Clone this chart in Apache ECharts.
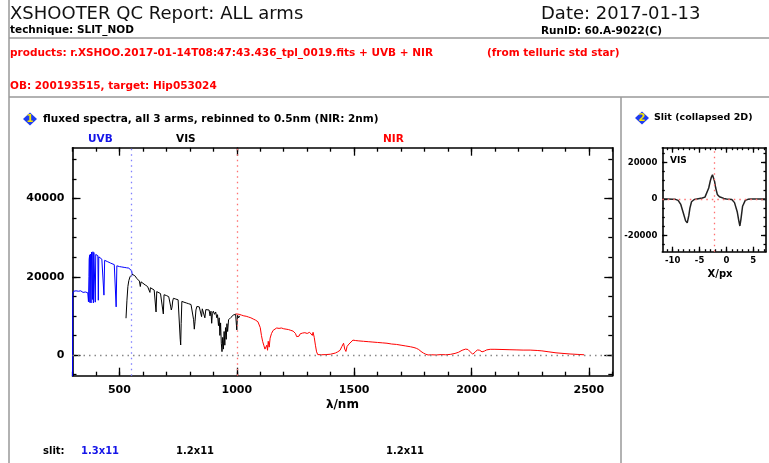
<!DOCTYPE html>
<html><head><meta charset="utf-8">
<script src="https://cdn.jsdelivr.net/npm/echarts@6/dist/echarts.min.js"></script>
<style>html,body{margin:0;padding:0;background:#fff}#c{width:769px;height:463px}</style>
</head><body><div id="c"></div>
<script>
// ---------- data ----------
const uvbWave = [300,301,305,310,315,320,325,330,335,340,345,350,355,360,365,368,370,371,373,374,376,377,379,381,383,385,387,389,391,393,395,397,399,402,405,408,410,412,416,420,425,430,434,437,442,448,455,462,470,478,483,486,489,495,500,510,520,530,540,548,552,555];
const uvbFlux = [-9000,15600,16300,15900,16400,16100,16300,16000,16400,16200,16000,16300,16100,16200,15900,13600,20000,24500,25500,13400,25800,26200,13300,26300,26400,14200,26400,13300,26200,25900,26000,13500,25700,25500,25300,25400,14000,25100,24900,24700,24500,24300,15300,24200,24000,23900,23700,23500,23300,23100,22900,12300,22800,22700,22600,22500,22400,22300,22200,22100,21500,20400];

const visWave = [528,532,536,540,545,550,555,560,565,570,575,580,585,589,592,600,610,620,628,630,632,640,648,653,656,659,665,675,683,687,690,700,710,715,718,721,724,727,730,740,750,755,759,761,763,766,775,785,795,805,812,816,819,822,826,830,840,846,850,853,860,864,868,875,882,886,890,893,896,900,905,910,915,918,922,925,928,931,934,937,940,943,946,949,952,955,958,961,965,970,975,980,985,990,995,1000,1003,1008,1012];
const visFlux = [9400,14000,17500,19000,20000,20400,20600,20900,20300,19800,19500,19200,18900,17500,18700,18400,17900,17500,17300,16000,17200,16900,16600,16400,11000,16200,16000,15700,15600,10500,15400,15200,14900,14600,12500,11500,12200,13800,14500,14300,14100,14000,4000,2550,8000,13700,13500,13300,13100,12900,12700,9000,6600,8500,11500,12400,12300,12100,9800,11800,11800,9500,11600,11600,11500,10000,11200,8100,10600,11200,10400,11000,9500,10300,7500,9500,5000,8200,3000,850,4500,1500,6000,2500,7000,4000,8000,6000,9000,8500,9600,9300,10200,9800,10400,6400,10200,9500,10000];

const nirWave = [995,1000,1010,1020,1030,1040,1050,1060,1070,1080,1090,1095,1100,1105,1110,1115,1120,1125,1128,1131,1134,1138,1142,1148,1155,1162,1170,1180,1190,1200,1210,1220,1230,1240,1250,1255,1260,1265,1270,1280,1290,1300,1310,1318,1322,1325,1330,1335,1340,1345,1360,1380,1400,1420,1430,1440,1448,1455,1460,1465,1470,1478,1485,1495,1505,1520,1540,1560,1580,1600,1620,1640,1660,1680,1700,1720,1740,1755,1765,1775,1785,1795,1805,1815,1830,1850,1870,1890,1910,1930,1945,1960,1975,1985,1995,2005,2015,2025,2035,2045,2055,2065,2080,2100,2130,2160,2190,2220,2250,2280,2300,2330,2360,2390,2420,2450,2480];
const nirFlux = [10500,10300,10400,10200,10000,9900,9700,9500,9200,8900,8500,8000,7000,5000,3500,2500,1500,1300,2500,1200,3500,2000,4300,5500,6300,6700,6900,6800,6900,6700,6600,6500,6300,6100,5500,4700,5200,4800,5400,5600,5700,5500,5800,5600,5000,5800,4500,2500,800,100,50,100,200,500,800,1200,2200,3000,1500,900,2200,2800,3300,3800,3700,3600,3500,3400,3300,3200,3100,3000,2800,2700,2500,2300,2100,1900,1700,1400,900,500,200,0,50,0,100,50,150,400,700,1200,1500,1400,800,200,700,1300,1200,800,1000,1300,1450,1450,1400,1350,1300,1250,1250,1150,1050,800,550,400,250,150,50];

const slitX = [-12,-11,-10,-9.5,-9,-8.5,-8,-7.6,-7.3,-7,-6.8,-6.5,-6,-5.5,-5,-4.5,-4,-3.7,-3.3,-3,-2.8,-2.6,-2.4,-2.2,-2,-1.7,-1.3,-1,-0.5,0,0.5,1,1.5,2,2.3,2.5,2.7,3,3.5,4,4.5,5,6,7,7.4];
const slitFlux = [0,0,-100,-200,-800,-3000,-8000,-12000,-13100,-9000,-5000,-1500,-300,0,300,500,1000,2000,6000,10000,12000,13300,12500,9500,6000,2500,1200,800,300,0,-100,-300,-2000,-7000,-12000,-14800,-11000,-4000,-800,-200,0,0,0,0,0];

// tick / label values
const mainXMinor = [300,400,500,600,700,800,900,1000,1100,1200,1300,1400,1500,1600,1700,1800,1900,2000,2100,2200,2300,2400,2500,2600];
const mainXMajor = [500,1000,1500,2000,2500];
const mainYMinor = [-5000,0,5000,10000,15000,20000,25000,30000,35000,40000,45000,50000];
const mainYMajor = [0,20000,40000];
const slitXMinor = [-11,-10,-9,-8,-7,-6,-5,-4,-3,-2,-1,0,1,2,3,4,5,6,7];
const slitXMajor = [-10,-5,0,5];
const slitYMinor = [-25000,-20000,-15000,-10000,-5000,0,5000,10000,15000,20000,25000];
const slitYMajor = [-20000,0,20000];

// ---------- chart ----------
const BF = '"DejaVu Sans", sans-serif';
function zipXY(a,b){return a.map((v,i)=>[v,b[i]]);}
function axis(kind, grid, position, min, max, ticks, len, showLine, labelCfg, extra){
  const ax = {
    type:'value', gridIndex:grid, position, min, max,
    axisLine:{show:showLine, onZero:false, lineStyle:{color:'#000', width:1.6}},
    axisTick:{show:true, inside:true, length:len, customValues:ticks, lineStyle:{color:'#000', width:1.3}},
    axisLabel: labelCfg ? Object.assign({show:true, customValues:labelCfg.values, color:'#000', fontFamily:BF, fontWeight:'bold', formatter:(v)=>String(v)}, labelCfg.style) : {show:false},
    splitLine:{show:false}
  };
  return Object.assign(ax, extra||{});
}
const xAxes = [
  axis('x',0,'bottom',300,2600,mainXMinor,4,true,{values:mainXMajor,style:{fontSize:11,margin:9}},
       {name:'λ/nm', nameLocation:'middle', nameGap:23, nameTextStyle:{fontFamily:BF,fontWeight:'bold',fontSize:12,color:'#000'}}),
  axis('x',0,'bottom',300,2600,mainXMajor,8,false,null),
  axis('x',0,'top',300,2600,mainXMinor,4,true,null),
  axis('x',0,'top',300,2600,mainXMajor,8,false,null),
  axis('x',1,'bottom',-11.94,7.36,slitXMinor,2.5,true,{values:slitXMajor,style:{fontSize:8.5,margin:5}}),
  axis('x',1,'bottom',-11.94,7.36,slitXMajor,5,false,null),
  axis('x',1,'top',-11.94,7.36,slitXMinor,2.5,true,null),
  axis('x',1,'top',-11.94,7.36,slitXMajor,5,false,null)
];
const yAxes = [
  axis('y',0,'left',-5300,53000,mainYMinor,4,true,{values:mainYMajor,style:{fontSize:11,margin:8}}),
  axis('y',0,'left',-5300,53000,mainYMajor,8,false,null),
  axis('y',0,'right',-5300,53000,mainYMinor,4,true,null),
  axis('y',0,'right',-5300,53000,mainYMajor,8,false,null),
  axis('y',1,'left',-28900,28100,slitYMinor,2.5,true,{values:slitYMajor,style:{fontSize:8.5,margin:5}}),
  axis('y',1,'left',-28900,28100,slitYMajor,5,false,null),
  axis('y',1,'right',-28900,28100,slitYMinor,2.5,true,null),
  axis('y',1,'right',-28900,28100,slitYMajor,5,false,null)
];

function txt(x,y,text,font,fill,align){
  return {type:'text', x, y, silent:true, style:{text, font, fill, align:align||'left', verticalAlign:'middle', textAlign:align||'left', textVerticalAlign:'middle'}};
}
function diamond(cx,cy,num){
  return [
    {type:'polygon', silent:true, shape:{points:[[cx-7,cy],[cx,cy-6.5],[cx+7,cy],[cx,cy+6.5]]}, style:{fill:'#1f3cf0'}},
    txt(cx,cy+0.5,num,'bold 10px '+BF,'#f4e400','center')
  ];
}
const B105 = 'bold 10.5px '+BF;
const graphics = [
  {type:'line', silent:true, shape:{x1:9,y1:0,x2:9,y2:463}, style:{stroke:'#999',lineWidth:1.5}},
  {type:'line', silent:true, shape:{x1:9,y1:38,x2:769,y2:38}, style:{stroke:'#999',lineWidth:1.5}},
  {type:'line', silent:true, shape:{x1:9,y1:97,x2:769,y2:97}, style:{stroke:'#999',lineWidth:1.5}},
  {type:'line', silent:true, shape:{x1:621,y1:97,x2:621,y2:463}, style:{stroke:'#999',lineWidth:1.5}},
  txt(10,14,'XSHOOTER QC Report: ALL arms','18px '+BF,'#111'),
  txt(10,30,'technique: SLIT_NOD',B105,'#000'),
  txt(541,14.5,'Date: 2017-01-13','18px '+BF,'#111'),
  txt(541,31,'RunID: 60.A-9022(C)',B105,'#000'),
  txt(10,53,'products: r.XSHOO.2017-01-14T08:47:43.436_tpl_0019.fits + UVB + NIR',B105,'#ff0000'),
  txt(487,53,'(from telluric std star)',B105,'#ff0000'),
  txt(10,86,'OB: 200193515, target: Hip053024',B105,'#ff0000'),
  ...diamond(30,119,'1'),
  txt(43,119,'fluxed spectra, all 3 arms, rebinned to 0.5nm (NIR: 2nm)',B105,'#000'),
  txt(88,139,'UVB',B105,'#1515e8'),
  txt(176,139,'VIS',B105,'#000'),
  txt(383,139,'NIR',B105,'#ff0000'),
  txt(43,451,'slit:','bold 10px '+BF,'#000'),
  txt(81,451,'1.3x11','bold 10px '+BF,'#1515e8'),
  txt(176,451,'1.2x11','bold 10px '+BF,'#000'),
  txt(386,451,'1.2x11','bold 10px '+BF,'#000'),
  ...diamond(642,118,'2'),
  txt(654,118,'Slit (collapsed 2D)','bold 9.5px '+BF,'#000'),
  txt(670,161,'VIS','bold 9px '+BF,'#000'),
  txt(720,274,'X/px','bold 10px '+BF,'#000','center')
];

const dotted = [1.5,4];
const option = {
  animation:false,
  backgroundColor:'#fff',
  grid:[
    {left:72.5, top:147.7, width:539.8, height:228},
    {left:662.3, top:147.7, width:103.7, height:104}
  ],
  xAxis:xAxes,
  yAxis:yAxes,
  graphic:graphics,
  series:[
    {type:'line', name:'UVB', xAxisIndex:0, yAxisIndex:0, data:zipXY(uvbWave,uvbFlux), symbol:'none', lineStyle:{color:'#0000ff',width:1}, z:3,
     markLine:{silent:true, symbol:'none', label:{show:false}, animation:false,
       data:[{yAxis:0, lineStyle:{color:'#888',type:dotted,width:1.3}},{xAxis:550, lineStyle:{color:'#8080ff',type:dotted,width:1.3}}]}},
    {type:'line', name:'VIS', xAxisIndex:0, yAxisIndex:0, data:zipXY(visWave,visFlux), symbol:'none', lineStyle:{color:'#000',width:1}, z:3},
    {type:'line', name:'NIR', xAxisIndex:0, yAxisIndex:0, data:zipXY(nirWave,nirFlux), symbol:'none', lineStyle:{color:'#ff0000',width:1}, z:4,
     markLine:{silent:true, symbol:'none', label:{show:false}, animation:false,
       data:[{xAxis:1000, lineStyle:{color:'#ff7070',type:dotted,width:1.3}}]}},
    {type:'line', name:'slit', xAxisIndex:4, yAxisIndex:4, data:zipXY(slitX,slitFlux), symbol:'none', lineStyle:{color:'#222',width:1.5}, z:3,
     markLine:{silent:true, symbol:'none', label:{show:false}, animation:false,
       data:[{yAxis:0, lineStyle:{color:'#ff7070',type:dotted,width:1.3}},{xAxis:-2.3, lineStyle:{color:'#ff7070',type:dotted,width:1.3}}]}}
  ]
};
const chart = echarts.init(document.getElementById('c'), null, {renderer:'canvas', width:769, height:463});
chart.setOption(option);
</script>
</body></html>
